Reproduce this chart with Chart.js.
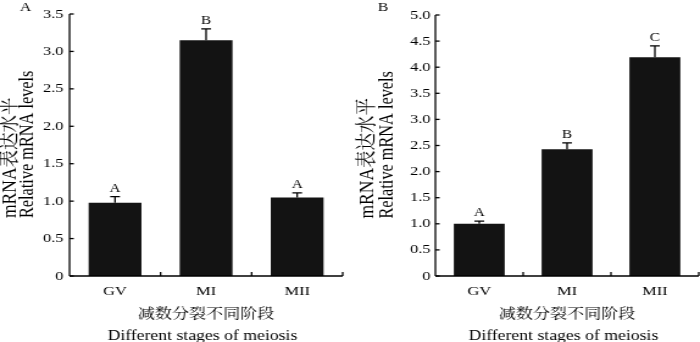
<!DOCTYPE html>
<html><head><meta charset="utf-8">
<script src="https://cdn.jsdelivr.net/npm/chart.js@4"></script>
<style>
html,body{margin:0;padding:0;background:#fff;}
#wrap{display:flex;width:700px;height:342px;}
</style></head><body>
<div id="wrap">
<canvas id="cA" width="287" height="342" style="width:350px;height:342px"></canvas>
<canvas id="cB" width="287" height="342" style="width:350px;height:342px"></canvas>
</div>
<script>
const categories = ['GV', 'MI', 'MII'];
const valuesA = [0.98, 3.15, 1.05];
const errorsA = [0.08, 0.15, 0.06];
const lettersA = ['A', 'B', 'A'];
const valuesB = [1.00, 2.43, 4.19];
const errorsB = [0.05, 0.12, 0.22];
const lettersB = ['A', 'B', 'C'];
const yTicksA = ['0', '0.5', '1.0', '1.5', '2.0', '2.5', '3.0', '3.5'];
const yTicksB = ['0', '0.5', '1.0', '1.5', '2.0', '2.5', '3.0', '3.5', '4.0', '4.5', '5.0'];
const yTitle = ['mRNA表达水平', 'Relative mRNA levels'];
const xTitle = ['减数分裂不同阶段', 'Different stages of meiosis'];

const FAMILY = "'Liberation Serif', 'Noto Serif CJK SC', 'Noto Sans CJK SC', serif";

const decor = {
  id: 'decor',
  afterDatasetsDraw(chart, args, o) {
    const ctx = chart.ctx, xs = chart.scales.x, ys = chart.scales.y, a = chart.chartArea;
    ctx.save();
    ctx.strokeStyle = '#000';
    ctx.fillStyle = '#000';
    // axes
    ctx.lineWidth = 1.3;
    ctx.beginPath();
    ctx.moveTo(a.left, ys.getPixelForValue(ys.max));
    ctx.lineTo(a.left, a.bottom);
    ctx.stroke();
    ctx.lineWidth = 1.5;
    ctx.beginPath();
    ctx.moveTo(a.left, a.bottom);
    ctx.lineTo(a.right, a.bottom);
    ctx.stroke();
    // y ticks (inward)
    ctx.lineWidth = 1.3;
    ys.ticks.forEach(t => {
      const p = ys.getPixelForValue(t.value);
      ctx.beginPath(); ctx.moveTo(a.left, p); ctx.lineTo(a.left + 3.5, p); ctx.stroke();
    });
    // x ticks at category boundaries (inward)
    const n = categories.length;
    for (let i = 1; i <= n; i++) {
      const px = i < n ? (xs.getPixelForValue(i - 1) + xs.getPixelForValue(i)) / 2 : a.right;
      ctx.beginPath(); ctx.moveTo(px, a.bottom); ctx.lineTo(px, a.bottom - 4); ctx.stroke();
    }
    // error bars and significance letters
    const meta = chart.getDatasetMeta(0);
    ctx.lineWidth = 1.3;
    ctx.font = '12.5px ' + FAMILY;
    ctx.textAlign = 'center';
    ctx.textBaseline = 'alphabetic';
    o.values.forEach((v, i) => {
      const cx = meta.data[i].x;
      const top = ys.getPixelForValue(v);
      const e = ys.getPixelForValue(v + o.errors[i]);
      ctx.beginPath();
      ctx.moveTo(cx, top); ctx.lineTo(cx, e);
      ctx.moveTo(cx - 4, e); ctx.lineTo(cx + 4, e);
      ctx.stroke();
      ctx.fillText(o.letters[i], cx, e - 5);
    });
    // panel letter
    ctx.font = '13px ' + FAMILY;
    ctx.textBaseline = 'middle';
    ctx.fillText(o.panel, o.panelX, 8);

    // x axis title (two lines)
    const midX = (a.left + a.right) / 2;
    ctx.font = '14px ' + FAMILY;
    ctx.textBaseline = 'middle';
    ctx.fillText(xTitle[0], midX, a.bottom + 38);
    ctx.font = '14.5px ' + FAMILY;
    ctx.textBaseline = 'alphabetic';
    ctx.fillText(xTitle[1], midX - 3, a.bottom + 63.5);

    // y axis title (two lines, rotated, start-aligned)
    const startY = (a.top + a.bottom) / 2 + 73;
    const sizes = [17.5, 16.3];
    ctx.textAlign = 'left';
    ctx.textBaseline = 'middle';
    yTitle.forEach((t, i) => {
      ctx.save();
      ctx.translate(o.titleX[i], startY);
      ctx.rotate(-Math.PI / 2);
      ctx.font = sizes[i] + 'px ' + FAMILY;
      ctx.fillText(t, 0, 0);
      ctx.restore();
    });
    ctx.restore();
  }
};

function makeChart(id, vals, errs, letters, ticks, ymax, cfg) {
  return new Chart(document.getElementById(id), {
    type: 'bar',
    data: {
      labels: categories,
      datasets: [{
        data: vals,
        backgroundColor: '#131313',
        borderWidth: 0,
        barPercentage: 0.58,
        categoryPercentage: 1
      }]
    },
    options: {
      responsive: false,
      animation: false,
      events: [],
      layout: { padding: { top: cfg.top, right: cfg.right, left: 0, bottom: 0 } },
      plugins: {
        legend: { display: false },
        tooltip: { enabled: false },
        decor: { values: vals, errors: errs, letters: letters, panel: cfg.panel, panelX: cfg.panelX, titleX: cfg.titleX }
      },
      scales: {
        x: {
          type: 'category',
          offset: true,
          grid: { display: false, drawTicks: false },
          border: { display: false },
          ticks: { color: '#000', font: { family: FAMILY, size: 13.5 }, padding: 7.5 },
          title: { display: false },
          afterFit(s) { s.height = 66; }
        },
        y: {
          min: 0, max: ymax,
          grid: { display: false, drawTicks: false },
          border: { display: false },
          ticks: {
            stepSize: 0.5, color: '#000', padding: cfg.tickPad,
            font: { family: FAMILY, size: 13.5 },
            callback: (v, i) => ticks[i]
          },
          title: { display: false },
          afterFit(s) { s.width = cfg.axisW; }
        }
      }
    },
    plugins: [decor]
  });
}

makeChart('cA', valuesA, errorsA, lettersA, yTicksA, 3.5,
  { top: 14, right: 6, axisW: 57, tickPad: 5, panel: 'A', panelX: 21, titleX: [8.2, 23] });
makeChart('cB', valuesB, errorsB, lettersB, yTicksB, 5.0,
  { top: 15, right: 1, axisW: 70, tickPad: 4, panel: 'B', panelX: 27, titleX: [14, 30.7] });
</script>
</body></html>
